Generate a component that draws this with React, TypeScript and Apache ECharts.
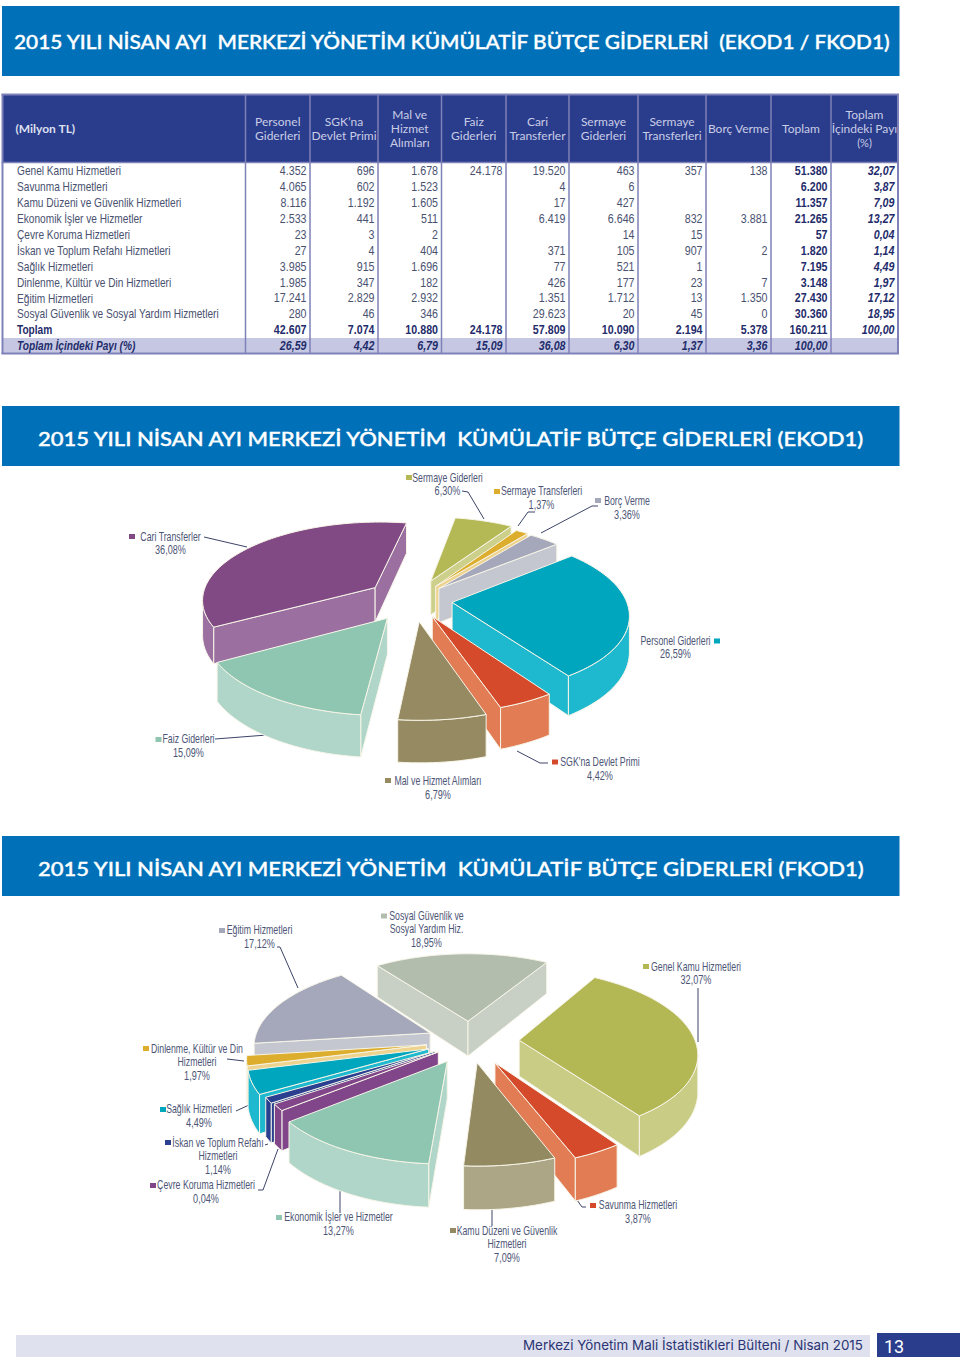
import React, { useEffect, useRef } from "react";
import * as echarts from "echarts";

// ---------- data ----------
const tableColumns = [
  ["Personel", "Giderleri"],
  ["SGK’na", "Devlet Primi"],
  ["Mal ve", "Hizmet", "Alımları"],
  ["Faiz", "Giderleri"],
  ["Cari", "Transferler"],
  ["Sermaye", "Giderleri"],
  ["Sermaye", "Transferleri"],
  ["Borç Verme"],
  ["Toplam"],
  ["Toplam", "İçindeki Payı", "(%)"],
];
const tableRowNames = [
  "Genel Kamu Hizmetleri",
  "Savunma Hizmetleri",
  "Kamu Düzeni ve Güvenlik Hizmetleri",
  "Ekonomik İşler ve Hizmetler",
  "Çevre Koruma Hizmetleri",
  "İskan ve Toplum Refahı Hizmetleri",
  "Sağlık Hizmetleri",
  "Dinlenme, Kültür ve Din Hizmetleri",
  "Eğitim Hizmetleri",
  "Sosyal Güvenlik ve Sosyal Yardım Hizmetleri",
  "Toplam",
  "Toplam İçindeki Payı (%)",
];
const tableRows = [
  ["4.352", "696", "1.678", "24.178", "19.520", "463", "357", "138", "51.380", "32,07"],
  ["4.065", "602", "1.523", "", "4", "6", "", "", "6.200", "3,87"],
  ["8.116", "1.192", "1.605", "", "17", "427", "", "", "11.357", "7,09"],
  ["2.533", "441", "511", "", "6.419", "6.646", "832", "3.881", "21.265", "13,27"],
  ["23", "3", "2", "", "", "14", "15", "", "57", "0,04"],
  ["27", "4", "404", "", "371", "105", "907", "2", "1.820", "1,14"],
  ["3.985", "915", "1.696", "", "77", "521", "1", "", "7.195", "4,49"],
  ["1.985", "347", "182", "", "426", "177", "23", "7", "3.148", "1,97"],
  ["17.241", "2.829", "2.932", "", "1.351", "1.712", "13", "1.350", "27.430", "17,12"],
  ["280", "46", "346", "", "29.623", "20", "45", "0", "30.360", "18,95"],
  ["42.607", "7.074", "10.880", "24.178", "57.809", "10.090", "2.194", "5.378", "160.211", "100,00"],
  ["26,59", "4,42", "6,79", "15,09", "36,08", "6,30", "1,37", "3,36", "100,00", ""],
];
const ekodShares = [26.59, 4.42, 6.79, 15.09, 36.08, 6.3, 1.37, 3.36];
const fkodShares = [32.07, 3.87, 7.09, 13.27, 0.04, 1.14, 4.49, 1.97, 17.12, 18.95];
// the picture draws the Çevre Koruma slice wider than its printed 0,04%
const fkodDrawnShares = [32.07, 3.87, 7.09, 13.27, 1.3, 1.14, 4.49, 1.97, 17.12, 18.95];

// ---------- styles and layout ----------
const SANS = '"Liberation Sans",Arial,sans-serif';
const HUMAN = 'Lato,"Open Sans",sans-serif';
const ekodTop = ["#00A5BE", "#D54A2B", "#958A62", "#8EC6B2", "#814A85", "#B5B955", "#DDAE2E", "#A5A8BA"];
const ekodSide = ["#1FB9CF", "#E27C54", "#958A62", "#AFD6C9", "#9B6FA0", "#CDD08A", "#EDD38D", "#C4C6D0"];
const ekodExplode = [0.22, 0.23, 0.27, 0.27, 0.28, 0.27, 0.22, 0.21];
const fkodTop = ["#B3B754", "#D54A2B", "#948A62", "#8EC6B2", "#81458A", "#2A3F8F", "#00A5BE", "#DDAE2E", "#A5A8BA", "#B2BDAE"];
const fkodSide = ["#C9CC85", "#E27C54", "#ADA686", "#AFD6C9", "#81458A", "#2A3F8F", "#1FB9CF", "#EDD38D", "#C4C6D0", "#C8D0C6"];
const fkodExplode = [0.28, 0.29, 0.26, 0.27, 0.22, 0.23, 0.25, 0.25, 0.25, 0.25];
const colX = [2.5, 245.5, 310, 378, 441.5, 506, 569, 638, 706, 771, 831, 898];

type Lab = { i: number; name: string[]; cx: number; y: number; sw: number[]; leader?: number[][] };
const ekodLabels: Lab[] = [
  { i: 0, name: ["Personel Giderleri"], cx: 675.5, y: 640, sw: [714, 638.5] },
  { i: 1, name: ["SGK'na Devlet Primi"], cx: 600, y: 761.5, sw: [552, 759.5], leader: [[548, 763], [540, 763], [517, 751]] },
  { i: 2, name: ["Mal ve Hizmet Alımları"], cx: 438, y: 780.5, sw: [385, 778] },
  { i: 3, name: ["Faiz Giderleri"], cx: 188.5, y: 738.5, sw: [155.5, 737], leader: [[215, 739], [267, 735]] },
  { i: 4, name: ["Cari Transferler"], cx: 170.5, y: 536, sw: [129, 534], leader: [[204, 537], [247, 547]] },
  { i: 5, name: ["Sermaye Giderleri"], cx: 447.5, y: 477, sw: [406, 475], leader: [[462, 491], [468, 492], [484, 519]] },
  { i: 6, name: ["Sermaye Transferleri"], cx: 541.5, y: 490.5, sw: [494, 489], leader: [[535, 512], [528, 512], [518, 526]] },
  { i: 7, name: ["Borç Verme"], cx: 627, y: 500.5, sw: [595, 498], leader: [[598, 506], [592, 506], [541, 533]] },
];
const fkodLabels: Lab[] = [
  { i: 0, name: ["Genel Kamu Hizmetleri"], cx: 696, y: 966, sw: [643, 964], leader: [[698, 988], [698, 1042]] },
  { i: 1, name: ["Savunma Hizmetleri"], cx: 638, y: 1204.5, sw: [590, 1203], leader: [[577, 1200], [582, 1207], [586, 1207]] },
  { i: 2, name: ["Kamu Düzeni ve Güvenlik", "Hizmetleri"], cx: 507, y: 1230, sw: [450, 1228], leader: [[492, 1210], [492, 1226]] },
  { i: 3, name: ["Ekonomik İşler ve Hizmetler"], cx: 338.5, y: 1216.5, sw: [276, 1215], leader: [[340, 1188], [340, 1213]] },
  { i: 4, name: ["Çevre Koruma Hizmetleri"], cx: 206, y: 1184.5, sw: [150, 1183], leader: [[258, 1190], [263, 1190], [278, 1149]] },
  { i: 5, name: ["İskan ve Toplum Refahı", "Hizmetleri"], cx: 218, y: 1142, sw: [165, 1140], leader: [[265, 1145], [268, 1144]] },
  { i: 6, name: ["Sağlık Hizmetleri"], cx: 199, y: 1108.5, sw: [160, 1107], leader: [[236, 1111], [249, 1105]] },
  { i: 7, name: ["Dinlenme, Kültür ve Din", "Hizmetleri"], cx: 197, y: 1048, sw: [143, 1046], leader: [[227, 1059], [244, 1061]] },
  { i: 8, name: ["Eğitim Hizmetleri"], cx: 259.5, y: 929.5, sw: [219, 928], leader: [[277, 947], [280, 947], [298, 988]] },
  { i: 9, name: ["Sosyal Güvenlik ve", "Sosyal Yardım Hiz."], cx: 426.5, y: 915, sw: [381, 913.5] },
];

// ---------- helpers ----------
const measureCtx = document.createElement("canvas").getContext("2d")!;
function fitScale(text: string, font: string, width: number) {
  measureCtx.font = font;
  return width / measureCtx.measureText(text).width;
}
function T(text: string, x: number, y: number, font: string, fill: string, align = "left", scaleX = 1, strokeWidth = 0) {
  return {
    type: "text",
    x,
    y,
    scaleX,
    silent: true,
    style: {
      text,
      font,
      fill,
      align,
      textAlign: align,
      verticalAlign: "middle",
      textVerticalAlign: "middle",
      ...(strokeWidth ? { stroke: fill, lineWidth: strokeWidth } : {}),
    },
  };
}
function R(x: number, y: number, width: number, height: number, fill: string) {
  return { type: "rect", silent: true, shape: { x, y, width, height }, style: { fill } };
}
function L(x1: number, y1: number, x2: number, y2: number, stroke: string, lineWidth = 1) {
  return { type: "line", silent: true, shape: { x1, y1, x2, y2 }, style: { stroke, lineWidth } };
}

function labelElements(labels: Lab[], shares: number[], colors: string[]) {
  const out: any[] = [];
  const font = `12px ${SANS}`;
  const ink = "#4D5576";
  labels.forEach((l) => {
    out.push(R(l.sw[0], l.sw[1], 6, 5, colors[l.i]));
    l.name.forEach((n, k) => out.push(T(n, l.cx, l.y + k * 13.8, font, ink, "center", 0.73)));
    out.push(T(shares[l.i].toFixed(2).replace(".", ",") + "%", l.cx, l.y + l.name.length * 13.6, font, ink, "center", 0.76));
    if (l.leader) {
      out.push({
        type: "polyline",
        silent: true,
        shape: { points: l.leader },
        style: { stroke: "#3C4468", lineWidth: 1, fill: "none" },
      });
    }
  });
  return out;
}

type PieCfg = { cx: number; cy: number; rx: number; ry: number; persp: number; depth: number; start: number };

function pieSeries(shares: number[], top: string[], side: string[], explode: number[], cfg: PieCfg) {
  const total = shares.reduce((a, b) => a + b, 0);
  const starts: number[] = [];
  let acc = cfg.start;
  shares.forEach((s) => {
    starts.push(acc);
    acc += (s / total) * 360;
  });
  const mids = shares.map((s, i) => starts[i] + (s / total) * 180);
  const order = shares
    .map((_, i) => i)
    .sort((a, b) => Math.cos((mids[b] * Math.PI) / 180) - Math.cos((mids[a] * Math.PI) / 180));
  const stroke = "#F7F5E8";
  const rad = (d: number) => (d * Math.PI) / 180;
  return {
    type: "custom",
    coordinateSystem: "none",
    silent: true,
    data: shares,
    renderItem: (params: any, api: any) => {
      const i = params.dataIndex;
      const sweep = (api.value(0) / total) * 360;
      const a0 = starts[i];
      const ex = explode[i] * Math.sin(rad(mids[i]));
      const ey = explode[i] * Math.cos(rad(mids[i]));
      const project = (X: number, Y: number, down: boolean) => {
        const w = 1 / (1 + cfg.persp * Y);
        return [cfg.cx + cfg.rx * X * w, cfg.cy - cfg.ry * Y * w + (down ? cfg.depth * w : 0)];
      };
      const arcAt = (deg: number) => [ex + Math.sin(rad(deg)), ey + Math.cos(rad(deg))];
      const steps = Math.max(2, Math.ceil(sweep / 2));
      const worldArc: number[][] = [];
      for (let k = 0; k <= steps; k++) worldArc.push(arcAt(a0 + (sweep * k) / steps));
      const apex = [ex, ey];
      const z2 = order.indexOf(i) * 10;
      const children: any[] = [];
      const quad = (pts: number[][], fill: string) =>
        children.push({
          type: "polygon",
          z2,
          shape: { points: pts },
          style: { fill, stroke, lineWidth: 1 },
        });
      const sideFace = (path: number[][]) => {
        const t = path.map((p) => project(p[0], p[1], false));
        const b = path.map((p) => project(p[0], p[1], true)).reverse();
        quad([...t, ...b], side[i]);
      };
      const first = worldArc[0];
      const last = worldArc[worldArc.length - 1];
      if (project(first[0], first[1], false)[0] < project(apex[0], apex[1], false)[0]) sideFace([apex, first]);
      if (project(apex[0], apex[1], false)[0] < project(last[0], last[1], false)[0]) sideFace([last, apex]);
      let run: number[][] = [];
      for (let k = 0; k < worldArc.length - 1; k++) {
        const p = worldArc[k];
        const q = worldArc[k + 1];
        const facing = project(q[0], q[1], false)[0] < project(p[0], p[1], false)[0];
        if (facing) {
          if (!run.length) run.push(p);
          run.push(q);
        } else if (run.length) {
          sideFace(run);
          run = [];
        }
      }
      if (run.length) sideFace(run);
      quad([apex, ...worldArc].map((p) => project(p[0], p[1], false)), top[i]);
      return { type: "group", children };
    },
  };
}

function staticElements() {
  const g: any[] = [];
  const blue = "#0071B9";
  const title1 = "2015 YILI NİSAN AYI  MERKEZİ YÖNETİM KÜMÜLATİF BÜTÇE GİDERLERİ  (EKOD1 / FKOD1)";
  const title2 = "2015 YILI NİSAN AYI MERKEZİ YÖNETİM  KÜMÜLATİF BÜTÇE GİDERLERİ (EKOD1)";
  const title3 = "2015 YILI NİSAN AYI MERKEZİ YÖNETİM  KÜMÜLATİF BÜTÇE GİDERLERİ (FKOD1)";
  const titleFont = `500 20px ${HUMAN}`;
  g.push(R(2, 6, 897.5, 70, blue));
  g.push(T(title1, 14, 41.5, titleFont, "#fff", "left", fitScale(title1, titleFont, 879), 0.4));
  g.push(R(2, 406, 897.5, 60, blue));
  g.push(T(title2, 38, 438, titleFont, "#fff", "left", fitScale(title2, titleFont, 829), 0.4));
  g.push(R(2, 836, 897.5, 60, blue));
  g.push(T(title3, 38, 868, titleFont, "#fff", "left", fitScale(title3, titleFont, 829), 0.4));

  // table
  const navy = "#2A3C8C";
  const rule = "#7F81B9";
  g.push(R(2.5, 94.5, 895.5, 68, navy));
  g.push(R(2.5, 338, 895.5, 15.5, "#C6C8E3"));
  g.push(L(1.5, 94.5, 899, 94.5, rule, 2));
  g.push(L(1.5, 162.5, 899, 162.5, rule, 1.5));
  g.push(L(1.5, 353.5, 899, 353.5, rule, 2));
  colX.forEach((x) => g.push(L(x, 94, x, 354, rule, x === colX[0] || x === colX[11] ? 2 : 1.5)));
  g.push(T("(Milyon TL)", 15.5, 128.5, `bold 12px ${HUMAN}`, "#DDE0F0"));
  tableColumns.forEach((lines, c) => {
    const cx = (colX[c + 1] + colX[c + 2]) / 2;
    const lh = 14.2;
    lines.forEach((line, k) => {
      g.push(T(line, cx, 128.5 + (k - (lines.length - 1) / 2) * lh, `${line === "(%)" ? 11 : 12}px ${HUMAN}`, "#C9CDE6", "center"));
    });
  });
  const plain = "#495170";
  const dark = "#1F2C6B";
  tableRows.forEach((cells, r) => {
    const y = 171 + r * 15.9;
    const isTotal = r === 10;
    const isShare = r === 11;
    const rowFont = isTotal ? `bold 12px ${SANS}` : isShare ? `italic bold 12px ${SANS}` : `12px ${SANS}`;
    g.push(T(tableRowNames[r], 17, y, rowFont, isTotal || isShare ? dark : plain, "left", 0.845));
    cells.forEach((cell, c) => {
      if (!cell) return;
      const right = colX[c + 2] - 3.5;
      let font = rowFont;
      let fill = isTotal || isShare ? dark : plain;
      if (c === 8 && !isShare) { font = `bold 12px ${SANS}`; fill = dark; }
      if (c === 9) { font = `italic bold 12px ${SANS}`; fill = dark; }
      g.push(T(cell, right, y, font, fill, "right", 0.89));
    });
  });

  // footer
  g.push(R(16, 1335, 854, 22, "#E0E1EF"));
  g.push(R(877, 1333, 83, 24, navy));
  const foot = "Merkezi Yönetim Mali İstatistikleri Bülteni / Nisan 2015";
  const footFont = `13.5px Inter,sans-serif`;
  g.push(T(foot, 523, 1345, footFont, "#2A3573", "left", fitScale(foot, footFont, 340)));
  g.push(T("13", 884, 1346.5, `18px Roboto,sans-serif`, "#fff"));
  return g;
}

export default function App() {
  const ref = useRef<HTMLDivElement>(null);
  useEffect(() => {
    document.body.style.margin = "0";
    const chart = echarts.init(ref.current!, undefined, { renderer: "svg" });
    chart.setOption({
      animation: false,
      backgroundColor: "#fff",
      graphic: {
        elements: [
          ...staticElements(),
          ...labelElements(ekodLabels, ekodShares, ekodTop),
          ...labelElements(fkodLabels, fkodShares, fkodTop),
        ],
      },
      series: [
        pieSeries(ekodShares, ekodTop, ekodSide, ekodExplode, { cx: 414, cy: 600, rx: 174, ry: 78, persp: 0.14, depth: 35, start: 50 }),
        pieSeries(fkodDrawnShares, fkodTop, fkodSide, fkodExplode, { cx: 470, cy: 1041, rx: 176, ry: 82, persp: 0.14, depth: 36, start: 31 }),
      ],
    });
    return () => chart.dispose();
  }, []);
  return <div ref={ref} style={{ width: 960, height: 1361 }} />;
}
